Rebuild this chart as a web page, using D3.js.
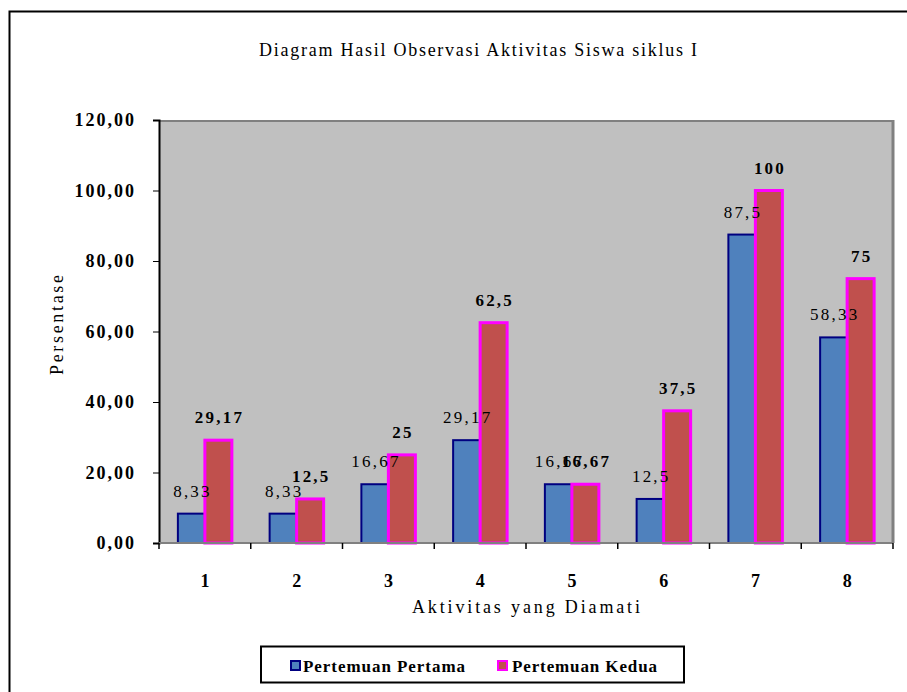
<!DOCTYPE html>
<html><head><meta charset="utf-8">
<script src="https://cdn.jsdelivr.net/npm/d3@7"></script>
<style>body{margin:0;background:#fff}svg{display:block}text{font-family:"Liberation Serif","Times New Roman",serif;fill:#000}</style>
</head><body>
<svg id="c" width="907" height="692"></svg>
<script>
const categories = ["1","2","3","4","5","6","7","8"];
const pertama = [8.33, 8.33, 16.67, 29.17, 16.67, 12.5, 87.5, 58.33];
const kedua = [29.17, 12.5, 25, 62.5, 16.67, 37.5, 100, 75];
const seriesNames = ["Pertemuan Pertama", "Pertemuan Kedua"];
const yTicks = [0, 20, 40, 60, 80, 100, 120];

const svg = d3.select("#c");
const L = 159, R = 893, T = 120, B = 543;
const fmt = v => String(v).replace(".", ",");
const fmtTick = v => v.toFixed(2).replace(".", ",");

// outer border
svg.append("path").attr("d", "M9.5,692 V11.5 H907").attr("fill","none").attr("stroke","#000").attr("stroke-width",2);

const x = d3.scaleBand().domain(categories).range([L, R]);
const y = d3.scaleLinear().domain([0, 120]).range([B, T]);

svg.append("rect").attr("x", L).attr("y", T).attr("width", R - L).attr("height", B - T).attr("fill", "#C0C0C0");
svg.append("line").attr("x1", L).attr("x2", R).attr("y1", T+1).attr("y2", T+1).attr("stroke", "#808080").attr("stroke-width", 2);
svg.append("line").attr("x1", R).attr("x2", R).attr("y1", T).attr("y2", B).attr("stroke", "#808080").attr("stroke-width", 3);

const bw = 27;
const g = svg.append("g");
g.selectAll("rect.p").data(pertama).join("rect")
  .attr("x", (d,i) => x(categories[i]) + x.bandwidth()/2 - bw)
  .attr("y", d => y(d)).attr("width", bw).attr("height", d => B - y(d))
  .attr("fill", "#4F81BD").attr("stroke", "#000080").attr("stroke-width", 2);
g.selectAll("rect.k").data(kedua).join("rect")
  .attr("x", (d,i) => x(categories[i]) + x.bandwidth()/2)
  .attr("y", d => y(d)).attr("width", bw).attr("height", d => B - y(d))
  .attr("fill", "#C0504D").attr("stroke", "#FF00FF").attr("stroke-width", 3);

// axes
const yAxis = d3.axisLeft(y).tickValues(yTicks).tickFormat(fmtTick).tickSize(6).tickPadding(17);
const ya = svg.append("g").attr("transform", `translate(${L},0)`).call(yAxis);
ya.select(".domain").attr("stroke", "#000").attr("stroke-width", 2);
ya.selectAll(".tick line").attr("stroke", "#000");
ya.selectAll(".tick text").attr("font-size", 18).attr("font-weight", "bold").attr("letter-spacing", 2);

const xAxis = d3.axisBottom(x).tickSize(0).tickPadding(31);
const xa = svg.append("g").attr("transform", `translate(0,${B})`).call(xAxis);
xa.select(".domain").remove();
xa.selectAll(".tick text").attr("font-size", 18).attr("font-weight", "bold");
svg.append("line").attr("x1", L).attr("x2", R).attr("y1", B).attr("y2", B).attr("stroke", "#808080").attr("stroke-width", 2);
svg.selectAll("line.xt").data(d3.range(categories.length + 1)).join("line")
  .attr("x1", i => L + i * x.step()).attr("x2", i => L + i * x.step())
  .attr("y1", B).attr("y2", B + 6).attr("stroke", "#000").attr("stroke-width", 1.5);

// data labels
const ls = 2.2;
const lab = svg.append("g").attr("font-size", 17).attr("text-anchor", "middle");
lab.selectAll("text.p").data(pertama).join("text")
  .attr("x", (d,i) => x(categories[i]) + x.bandwidth()/2 - bw/2 + ls/2)
  .attr("y", d => y(d) - 17).attr("letter-spacing", ls).text(fmt);
lab.selectAll("text.k").data(kedua).join("text")
  .attr("x", (d,i) => x(categories[i]) + x.bandwidth()/2 + bw/2 + ls/2)
  .attr("y", d => y(d) - 17).attr("letter-spacing", ls).attr("font-weight", "bold").text(fmt);

// titles
svg.append("text").attr("x", 478).attr("y", 56).attr("text-anchor", "middle").attr("font-size", 18)
  .attr("textLength", 438).attr("lengthAdjust", "spacing").text("Diagram Hasil Observasi Aktivitas Siswa siklus I");
svg.append("text").attr("x", 526).attr("y", 613).attr("text-anchor", "middle").attr("font-size", 18)
  .attr("textLength", 228).attr("lengthAdjust", "spacing").text("Aktivitas yang Diamati");
svg.append("text").attr("transform", "translate(63,325) rotate(-90)").attr("text-anchor", "middle").attr("font-size", 18)
  .attr("textLength", 100).attr("lengthAdjust", "spacing").text("Persentase");

// legend
svg.append("rect").attr("x", 261).attr("y", 646.5).attr("width", 423).attr("height", 36).attr("fill", "#fff").attr("stroke", "#000").attr("stroke-width", 2);
const lg = [{n: seriesNames[0], f: "#4F81BD", s: "#000080", x: 291, tx: 303, w: 162}, {n: seriesNames[1], f: "#C0504D", s: "#FF00FF", x: 498, tx: 512, w: 145}];
lg.forEach(d => {
  svg.append("rect").attr("x", d.x).attr("y", 661).attr("width", 9).attr("height", 9).attr("fill", d.f).attr("stroke", d.s).attr("stroke-width", 2);
  svg.append("text").attr("x", d.tx).attr("y", 672).attr("font-size", 17).attr("font-weight", "bold")
    .attr("textLength", d.w).attr("lengthAdjust", "spacing").text(d.n);
});
</script>
</body></html>
